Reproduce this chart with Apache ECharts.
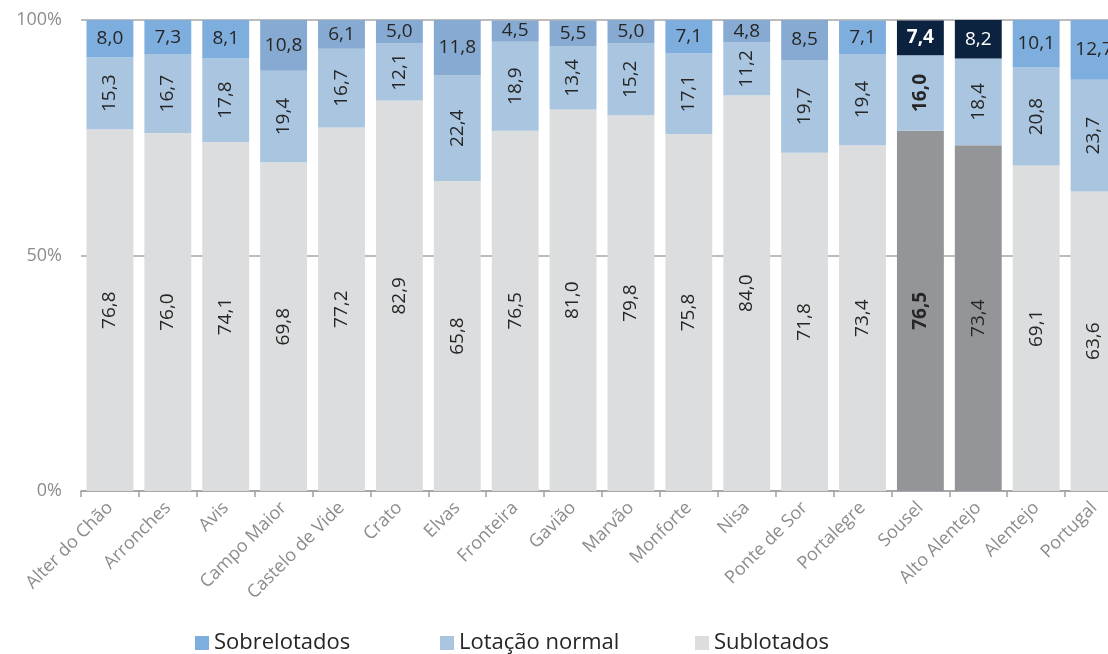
<!DOCTYPE html>
<html>
<head>
<meta charset="UTF-8">
<title>Alojamentos por índice de lotação</title>
<script src="https://cdn.jsdelivr.net/npm/echarts@6/dist/echarts.min.js"></script>
<style>
  html, body { margin: 0; padding: 0; background: #fff; }
</style>
</head>
<body>
<div id="main" style="width: 1108px;height:654px;"></div>
<script type="text/javascript">
var categories = ['Alter do Chão', 'Arronches', 'Avis', 'Campo Maior', 'Castelo de Vide', 'Crato', 'Elvas',
  'Fronteira', 'Gavião', 'Marvão', 'Monforte', 'Nisa', 'Ponte de Sor', 'Portalegre', 'Sousel',
  'Alto Alentejo', 'Alentejo', 'Portugal'];
var sublotados = [76.8, 76.0, 74.1, 69.8, 77.2, 82.9, 65.8, 76.5, 81.0, 79.8, 75.8, 84.0, 71.8, 73.4, 76.5, 73.4, 69.1, 63.6];
var lotacaoNormal = [15.3, 16.7, 17.8, 19.4, 16.7, 12.1, 22.4, 18.9, 13.4, 15.2, 17.1, 11.2, 19.7, 19.4, 16.0, 18.4, 20.8, 23.7];
var sobrelotados = [8.0, 7.3, 8.1, 10.8, 6.1, 5.0, 11.8, 4.5, 5.5, 5.0, 7.1, 4.8, 8.5, 7.1, 7.4, 8.2, 10.1, 12.7];
var yTicks = [0, 50, 100];
var legendNames = ['Sobrelotados', 'Lotação normal', 'Sublotados'];

// concelhos com o azul mais apagado no topo
var mutedTop = ['Campo Maior', 'Castelo de Vide', 'Crato', 'Elvas', 'Fronteira', 'Gavião', 'Marvão', 'Nisa', 'Ponte de Sor'];
var highlight = ['Sousel', 'Alto Alentejo'];

var font = 'Open Sans';
function fmt(v) { return v.toFixed(1).replace('.', ','); }

function buildData(values, layer) {
  return values.map(function (v, i) {
    var name = categories[i];
    var item = { value: v, itemStyle: {}, label: {} };
    var hl = highlight.indexOf(name) >= 0;
    if (layer === 'sub') {
      item.itemStyle.color = hl ? '#939598' : '#DCDDDE';
    } else if (layer === 'normal') {
      item.itemStyle.color = '#A9C5E0';
    } else {
      if (hl) {
        item.itemStyle.color = '#0C2340';
        item.label.color = '#ffffff';
      } else {
        item.itemStyle.color = mutedTop.indexOf(name) >= 0 ? '#86AAD1' : '#7EAEDE';
      }
    }
    if (name === 'Sousel') item.label.fontWeight = 'bold';
    return item;
  });
}

var myChart = echarts.init(document.getElementById('main'));

var baseLabel = {
  show: true,
  position: 'inside',
  color: '#262626',
  fontFamily: font,
  fontSize: 19,
  formatter: function (p) { return fmt(p.value); }
};

// uma legenda por item, para manter o espaçamento do original
var legendLeft = [190, 435, 690];
var legends = legendNames.map(function (n, i) {
  return {
    data: [n],
    left: legendLeft[i],
    top: 627,
    itemWidth: 14,
    itemHeight: 14,
    itemGap: 6,
    icon: 'rect',
    textStyle: { fontFamily: font, fontSize: 22, color: '#262626' }
  };
});

var option = {
  animation: false,
  legend: legends,
  grid: { left: 81, top: 20, width: 1042, height: 471, outerBoundsMode: 'none' },
  xAxis: {
    type: 'category',
    data: categories,
    axisLine: { lineStyle: { color: '#a0a0a0', width: 1.5 } },
    axisTick: { show: true, length: 6, lineStyle: { color: '#a0a0a0', width: 1.5 } },
    axisLabel: { rotate: 45, color: '#8c8c8c', fontFamily: font, fontSize: 18, margin: 14, interval: 0 }
  },
  yAxis: {
    type: 'value',
    min: yTicks[0],
    max: yTicks[yTicks.length - 1],
    interval: 50,
    axisLine: { show: false },
    axisTick: { show: false },
    axisLabel: { formatter: '{value}%', color: '#8c8c8c', fontFamily: font, fontSize: 18, margin: 19 },
    splitLine: { lineStyle: { color: '#a6a6a6', width: 1.5 } }
  },
  series: [
    {
      name: 'Sublotados',
      type: 'bar',
      stack: 'total',
      barCategoryGap: '19%',
      itemStyle: { color: '#DCDDDE' },
      label: Object.assign({}, baseLabel, { rotate: 90 }),
      data: buildData(sublotados, 'sub')
    },
    {
      name: 'Lotação normal',
      type: 'bar',
      stack: 'total',
      itemStyle: { color: '#A9C5E0' },
      label: Object.assign({}, baseLabel, { rotate: 90 }),
      data: buildData(lotacaoNormal, 'normal')
    },
    {
      name: 'Sobrelotados',
      type: 'bar',
      stack: 'total',
      itemStyle: { color: '#7EAEDE' },
      label: Object.assign({}, baseLabel),
      data: buildData(sobrelotados, 'sobre')
    }
  ]
};

myChart.setOption(option);
</script>
</body>
</html>
